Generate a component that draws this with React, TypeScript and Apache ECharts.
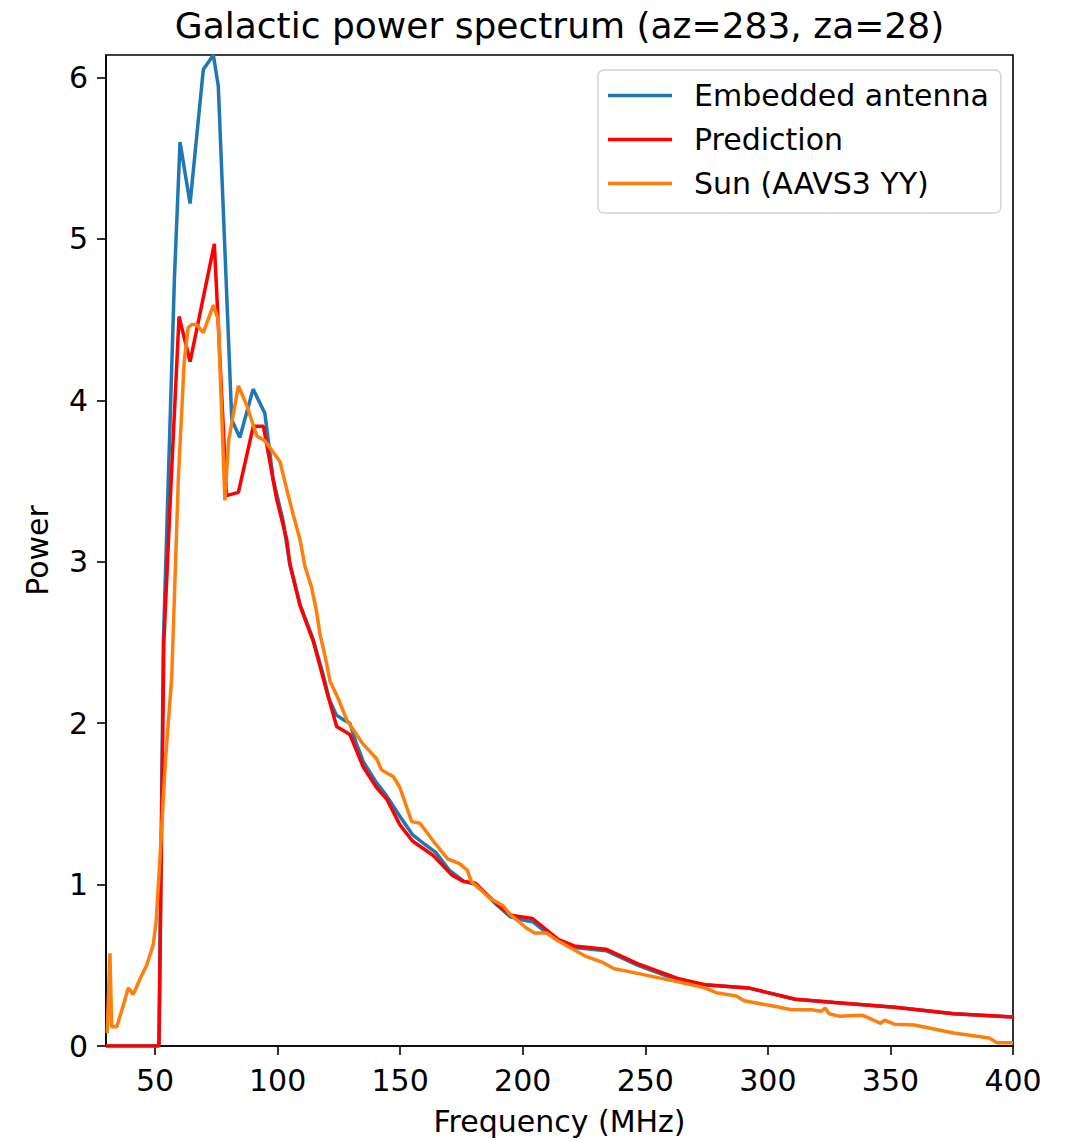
import React, { useEffect, useRef } from "react";
import * as echarts from "echarts";

const FONT = "DejaVu Sans";

const xTicks = [50, 100, 150, 200, 250, 300, 350, 400];
const yTicks = [0, 1, 2, 3, 4, 5, 6];

const embeddedFreq = [30, 51.6, 53.4, 57.9, 60.2, 64.3, 69.7, 73.8, 75.8, 81.3, 84.6, 90, 94.8, 98.2, 102.3, 105, 109.1, 114.5, 118.6, 121, 124, 127, 129.5, 132, 135, 140.4, 144.5, 150, 155, 160, 164.5, 170, 176, 181, 189, 195, 200, 204, 210, 215, 221, 234, 247, 263, 274, 292, 311, 327, 352, 376, 400];
const embeddedPower = [0, 0, 2.5, 4.75, 5.6, 5.22, 6.05, 6.14, 5.95, 3.88, 3.77, 4.07, 3.92, 3.51, 3.25, 2.98, 2.74, 2.52, 2.3, 2.15, 2.05, 2.02, 2.0, 1.88, 1.76, 1.63, 1.55, 1.42, 1.31, 1.25, 1.2, 1.09, 1.02, 1.0, 0.88, 0.8, 0.78, 0.77, 0.7, 0.65, 0.61, 0.59, 0.5, 0.41, 0.38, 0.36, 0.29, 0.27, 0.24, 0.2, 0.18];

const predFreq = [30, 51.6, 53.6, 56.6, 59.8, 64.3, 74.2, 79.2, 84, 90.1, 94.2, 99.6, 103.7, 105, 109.1, 114.5, 120, 124.1, 129.5, 134.9, 140.4, 144.5, 149.9, 155, 163.5, 171, 175.8, 180.6, 188.7, 195.2, 204, 214.5, 221, 233.9, 246.8, 262.9, 274.2, 292, 311.3, 327.4, 351.6, 375.8, 400];
const predPower = [0, 0, 2.5, 3.51, 4.52, 4.24, 4.97, 3.41, 3.43, 3.84, 3.84, 3.39, 3.14, 2.99, 2.73, 2.51, 2.2, 1.98, 1.93, 1.73, 1.6, 1.53, 1.37, 1.27, 1.18, 1.06, 1.02, 1.01, 0.89, 0.81, 0.79, 0.66, 0.62, 0.6, 0.51, 0.42, 0.38, 0.36, 0.29, 0.27, 0.24, 0.2, 0.18];

const sunFreq = [30.5, 31.6, 32.3, 34.4, 37, 39.1, 41.1, 44, 46.6, 49.3, 50.5, 52, 54.3, 56.8, 59.5, 61.9, 63.5, 65, 67, 69.7, 73.8, 75.8, 78.5, 80, 84, 87.4, 91.5, 94.8, 101, 103.7, 106.4, 109.1, 111.2, 113.9, 115.9, 117.3, 119.3, 121.4, 124.8, 128.2, 134.9, 140.4, 142.4, 147.2, 149.9, 154.7, 158.1, 163.5, 169.4, 174.2, 177.4, 179, 187.1, 191.9, 195.2, 201.6, 204.8, 209.7, 214.5, 225.8, 232.3, 237.1, 246.8, 262.9, 274.2, 279, 287.1, 290.3, 303.2, 309.7, 317.8, 321.8, 323.4, 325, 329, 338.7, 346, 347.6, 351.6, 359.7, 375.8, 390.3, 393.5, 400];
const sunPower = [0.08, 0.575, 0.12, 0.12, 0.25, 0.36, 0.32, 0.42, 0.5, 0.63, 0.78, 1.16, 1.78, 2.28, 3.51, 4.24, 4.45, 4.47, 4.47, 4.42, 4.59, 4.5, 3.38, 3.75, 4.09, 3.97, 3.78, 3.75, 3.62, 3.45, 3.29, 3.14, 2.97, 2.84, 2.69, 2.55, 2.42, 2.26, 2.15, 2.02, 1.87, 1.78, 1.71, 1.67, 1.6, 1.39, 1.38, 1.27, 1.16, 1.13, 1.09, 1.02, 0.91, 0.87, 0.81, 0.73, 0.7, 0.7, 0.65, 0.555, 0.52, 0.48, 0.45, 0.4, 0.36, 0.33, 0.31, 0.28, 0.245, 0.225, 0.225, 0.215, 0.235, 0.2, 0.185, 0.19, 0.14, 0.16, 0.135, 0.13, 0.08, 0.05, 0.02, 0.02];

const zip = (xs: number[], ys: number[]) => xs.map((x, i) => [x, ys[i]]);

export default function App() {
  const ref = useRef<HTMLDivElement>(null);
  useEffect(() => {
    if (!ref.current) return;
    const chart = echarts.init(ref.current, null, { renderer: "svg" });
    const axisLineStyle = { color: "#000", width: 1.6 };
    const labelStyle = { fontFamily: FONT, fontSize: 30, color: "#000" };
    chart.setOption({
      animation: false,
      backgroundColor: "#fff",
      grid: {
        left: 106,
        top: 55,
        right: 53,
        bottom: 93,
        show: true,
        borderColor: "#000",
        borderWidth: 1.6,
        backgroundColor: "transparent",
      },
      graphic: [
        {
          type: "text",
          x: 559.5,
          y: 25,
          style: {
            text: "Galactic power spectrum (az=283, za=28)",
            font: `36px "${FONT}"`,
            fill: "#000",
            textAlign: "center",
            textVerticalAlign: "middle",
          },
        },
      ],
      legend: {
        orient: "vertical",
        left: 598,
        top: 70,
        icon: "rect",
        itemWidth: 64,
        itemHeight: 3.5,
        itemGap: 14,
        padding: [10.5, 12, 14.5, 10],
        backgroundColor: "#fff",
        borderColor: "#d4d4d4",
        borderWidth: 1.5,
        borderRadius: 6,
        textStyle: { ...labelStyle, lineHeight: 29, padding: [0, 0, 0, 17] },
        data: ["Embedded antenna", "Prediction", "Sun (AAVS3 YY)"],
      },
      xAxis: {
        type: "value",
        min: 30,
        max: 400,
        axisLine: { show: true, onZero: false, lineStyle: axisLineStyle },
        axisTick: { show: true, customValues: xTicks, length: 9, lineStyle: axisLineStyle },
        axisLabel: { customValues: xTicks, margin: 19, ...labelStyle },
        splitLine: { show: false },
        name: "Frequency (MHz)",
        nameLocation: "middle",
        nameGap: 60,
        nameTextStyle: labelStyle,
      },
      yAxis: {
        type: "value",
        min: 0,
        max: 6.14,
        axisLine: { show: true, onZero: false, lineStyle: axisLineStyle },
        axisTick: { show: true, customValues: yTicks, length: 9, lineStyle: axisLineStyle },
        axisLabel: { customValues: yTicks, margin: 18, ...labelStyle },
        splitLine: { show: false },
        name: "Power",
        nameLocation: "middle",
        nameGap: 54,
        nameTextStyle: labelStyle,
      },
      series: [
        {
          name: "Embedded antenna",
          type: "line",
          data: zip(embeddedFreq, embeddedPower),
          showSymbol: false,
          symbol: "none",
          color: "#1f77b4",
          lineStyle: { color: "#1f77b4", width: 3.5 },
          z: 2,
        },
        {
          name: "Prediction",
          type: "line",
          data: zip(predFreq, predPower),
          showSymbol: false,
          symbol: "none",
          color: "#ff0000",
          lineStyle: { color: "#ff0000", width: 3.5 },
          z: 3,
        },
        {
          name: "Sun (AAVS3 YY)",
          type: "line",
          data: zip(sunFreq, sunPower),
          showSymbol: false,
          symbol: "none",
          color: "#ff7f0e",
          lineStyle: { color: "#ff7f0e", width: 3.5 },
          z: 4,
        },
      ],
    });
    return () => chart.dispose();
  }, []);
  return (
    <div
      ref={ref}
      style={{ position: "fixed", left: 0, top: 0, width: 1066, height: 1141, background: "#fff" }}
    />
  );
}
